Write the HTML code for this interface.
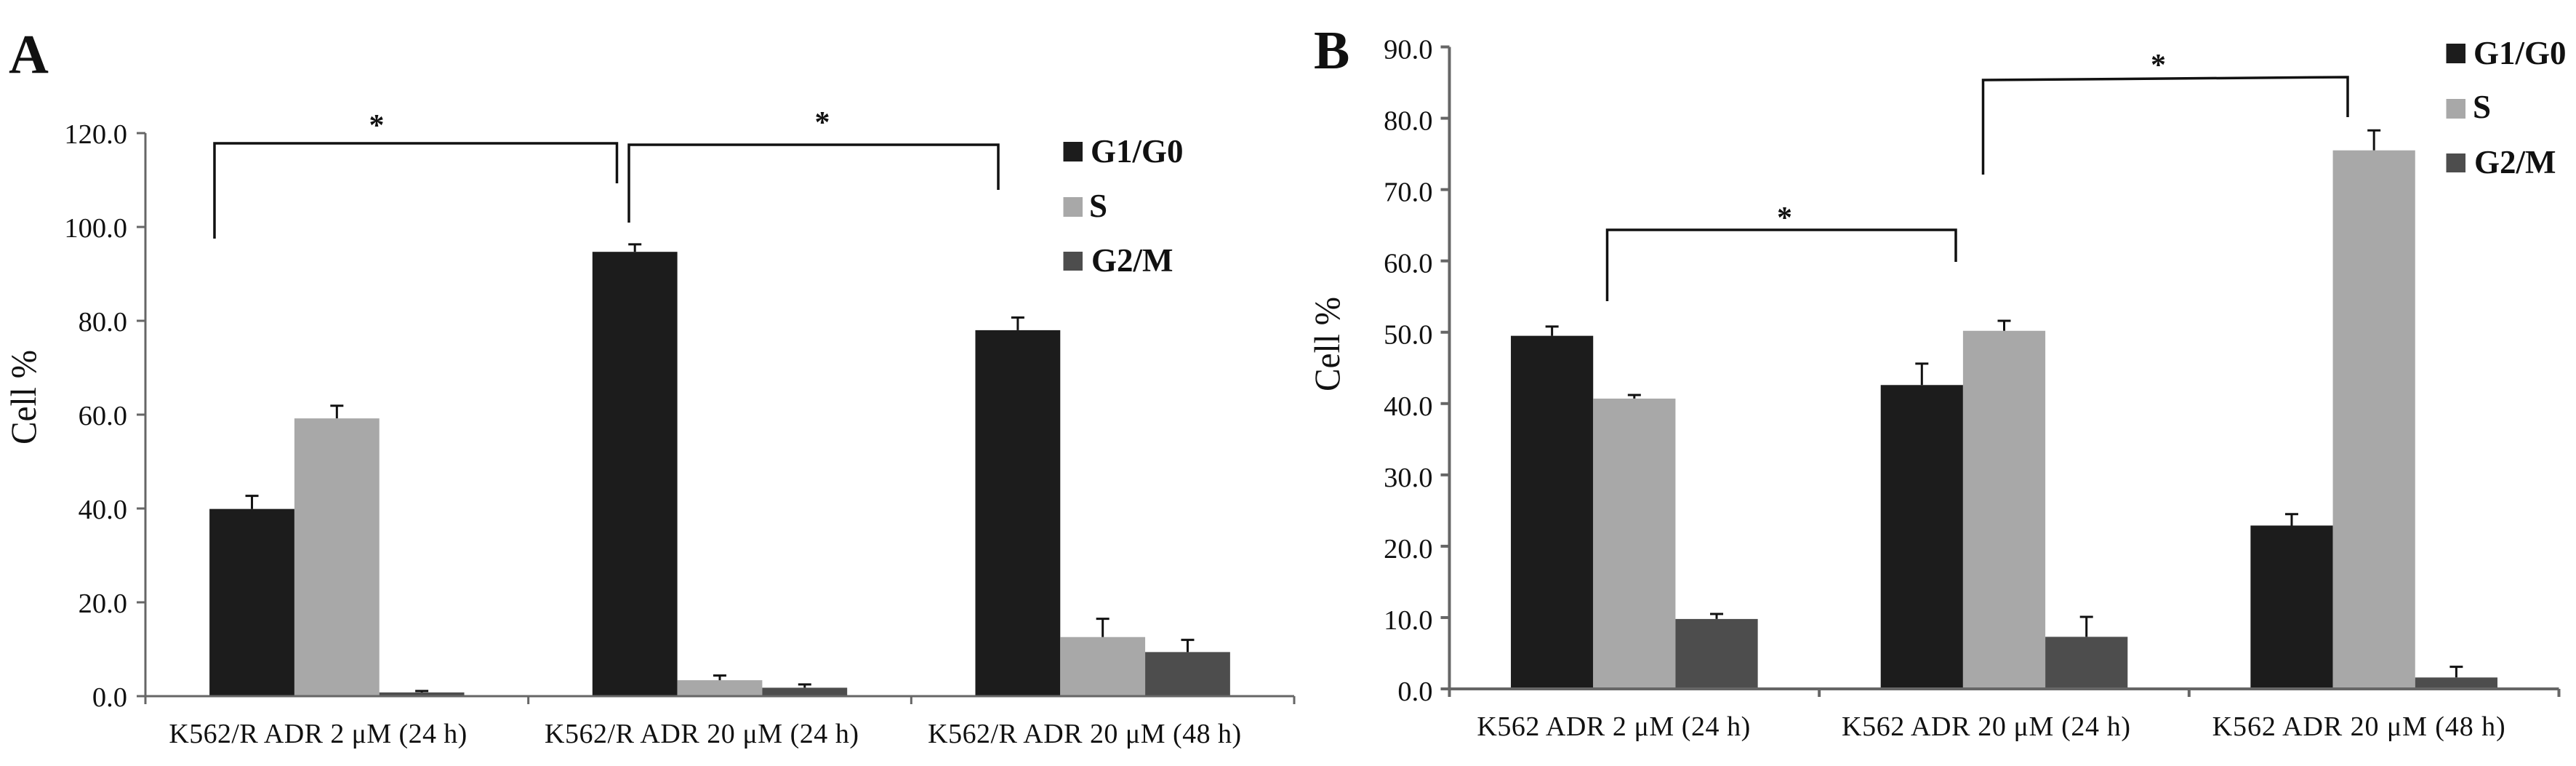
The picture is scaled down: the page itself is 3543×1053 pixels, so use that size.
<!DOCTYPE html>
<html lang="en">
<head>
<meta charset="utf-8">
<title>Cell cycle distribution charts</title>
<style>
html,body{margin:0;padding:0;background:#fff;width:3543px;height:1053px;overflow:hidden}
svg{display:block}
text{font-family:"Liberation Serif","DejaVu Serif",serif;fill:#111}
.bold{font-weight:bold}
</style>
</head>
<body>
<svg id="figure" xmlns="http://www.w3.org/2000/svg" width="3543" height="1053" viewBox="0 0 3543 1053">
  <rect x="0" y="0" width="3543" height="1053" fill="#ffffff"/>

  <text class="bold" x="12" y="100" font-size="76">A</text>
  <text class="bold" x="1807" y="94" font-size="74">B</text>

  <text font-size="50" text-anchor="middle" textLength="130" lengthAdjust="spacingAndGlyphs" transform="translate(49,546) rotate(-90)">Cell %</text>
  <text font-size="50" text-anchor="middle" textLength="130" lengthAdjust="spacingAndGlyphs" transform="translate(1842,473) rotate(-90)">Cell %</text>

  <g id="panelA"></g>
  <g id="panelB"></g>

  <g fill="none" stroke="#111" stroke-width="3.5">
    <path d="M295 328V197H848.5V252"/>
    <path d="M865 306V199H1373V261"/>
  </g>
  <text class="bold" x="518" y="186" font-size="42" text-anchor="middle">*</text>
  <text class="bold" x="1131" y="182" font-size="42" text-anchor="middle">*</text>

  <g fill="none" stroke="#111" stroke-width="3.5">
    <path d="M2210.5 414V316H2690V360"/>
    <path d="M2727.5 240V110L3229 106V161"/>
  </g>
  <text class="bold" x="2454.5" y="313" font-size="42" text-anchor="middle">*</text>
  <text class="bold" x="2968.5" y="103" font-size="42" text-anchor="middle">*</text>

  <g>
    <rect x="1462.5" y="195" width="26.5" height="27" fill="#1c1c1c"/>
    <text class="bold" x="1500" y="223" font-size="45">G1/G0</text>
    <rect x="1462.5" y="271" width="26.5" height="27" fill="#a8a8a8"/>
    <text class="bold" x="1498" y="298" font-size="45">S</text>
    <rect x="1462.5" y="346" width="26.5" height="26" fill="#4d4d4d"/>
    <text class="bold" x="1501" y="373" font-size="45">G2/M</text>
  </g>
  <g>
    <rect x="3364.5" y="60" width="26.5" height="27" fill="#1c1c1c"/>
    <text class="bold" x="3402" y="88" font-size="45">G1/G0</text>
    <rect x="3364.5" y="136" width="26.5" height="27" fill="#a8a8a8"/>
    <text class="bold" x="3401" y="162" font-size="45">S</text>
    <rect x="3364.5" y="211" width="26.5" height="26" fill="#4d4d4d"/>
    <text class="bold" x="3403" y="238" font-size="45">G2/M</text>
  </g>
</svg>

<script>
// Panel A data
const categoriesA = ["K562/R ADR 2 μM (24 h)", "K562/R ADR 20 μM (24 h)", "K562/R ADR 20 μM (48 h)"];
const g1ValuesA = [39.9, 94.7, 78.0];
const sValuesA = [59.2, 3.4, 12.6];
const g2ValuesA = [0.8, 1.8, 9.4];
const g1ErrorTopsA = [42.7, 96.3, 80.7];
const sErrorTopsA = [61.9, 4.4, 16.5];
const g2ErrorTopsA = [1.1, 2.5, 12.0];
const tickValuesA = [0, 20, 40, 60, 80, 100, 120];

// Panel B data
const categoriesB = ["K562 ADR 2 μM (24 h)", "K562 ADR 20 μM (24 h)", "K562 ADR 20 μM (48 h)"];
const g1ValuesB = [49.5, 42.6, 22.9];
const sValuesB = [40.7, 50.2, 75.5];
const g2ValuesB = [9.8, 7.3, 1.6];
const g1ErrorTopsB = [50.8, 45.6, 24.5];
const sErrorTopsB = [41.2, 51.6, 78.3];
const g2ErrorTopsB = [10.5, 10.1, 3.1];
const tickValuesB = [0, 10, 20, 30, 40, 50, 60, 70, 80, 90];

const seriesNames = ["g1-g0", "s", "g2-m"];
const seriesColors = ["#1c1c1c", "#a8a8a8", "#4d4d4d"];

const SVG_NS = "http://www.w3.org/2000/svg";

function makeShape(tag, parent, props) {
  const el = document.createElementNS(SVG_NS, tag);
  for (const k in props) el.setAttribute(k, props[k]);
  parent.appendChild(el);
  return el;
}

function drawPanel(opts) {
  const root = document.getElementById(opts.id);
  const L = opts.layout;
  const nGroups = opts.categories.length;
  const bandWidth = (L.right - L.left) / nGroups;
  const maxTick = Math.max.apply(null, opts.ticks);

  function yScale(v) { return L.bottom - (v / maxTick) * (L.bottom - L.top); }
  function groupCenter(g) { return L.left + bandWidth * (g + 0.5); }
  function barLeft(g, s) { return groupCenter(g) - 1.5 * L.barWidth + s * L.barWidth; }

  // bars and error bars
  opts.series.forEach(function (values, s) {
    values.forEach(function (v, g) {
      const x = barLeft(g, s);
      const bar = makeShape("rect", root, {
        x: x, y: yScale(v), width: L.barWidth, height: L.bottom - yScale(v), fill: seriesColors[s]
      });
      
      

      const top = opts.errors[s][g];
      const cx = x + L.barWidth / 2;
      const err = makeShape("path", root, {
        d: "M" + cx + " " + yScale(v) + "V" + yScale(top) + "M" + (cx - 9) + " " + yScale(top) + "H" + (cx + 9),
        fill: "none", stroke: "#111", "stroke-width": 3
      });
      
      
    });
  });

  // y axis
  const yAxis = makeShape("line", root, {
    x1: L.left, x2: L.left, y1: L.top, y2: L.bottom, stroke: "#666", "stroke-width": L.axisWidth
  });
  
  

  opts.ticks.forEach(function (t) {
    const tick = makeShape("line", root, {
      x1: L.left - 12, x2: L.left, y1: yScale(t), y2: yScale(t), stroke: "#666", "stroke-width": L.axisWidth
    });
    
    

    const label = makeShape("text", root, {
      x: L.left - L.tickGap, y: yScale(t) + L.tickDrop, "text-anchor": "end", "font-size": 38.5
    });
    label.textContent = t.toFixed(1);
    
    
  });

  // x axis
  const xAxis = makeShape("line", root, {
    x1: L.left, x2: L.right, y1: L.bottom, y2: L.bottom, stroke: "#666", "stroke-width": L.axisWidth
  });
  
  

  for (let i = 0; i <= nGroups; i++) {
    const tx = L.left + bandWidth * i;
    const xTick = makeShape("line", root, {
      x1: tx, x2: tx, y1: L.bottom, y2: L.bottom + 11, stroke: "#666", "stroke-width": L.axisWidth
    });
    
    
  }

  opts.categories.forEach(function (c, g) {
    const cat = makeShape("text", root, {
      x: groupCenter(g) + L.labelShift[g], y: L.labelBaseline, "text-anchor": "middle",
      "font-size": L.labelSize, textLength: L.labelWidth[g], lengthAdjust: "spacing"
    });
    cat.textContent = c;
    
    
  });
}

const layoutA = {
  left: 200, right: 1780, top: 183, bottom: 957, barWidth: 116.8, axisWidth: 3, tickGap: 25, tickDrop: 14,
  labelBaseline: 1021, labelSize: 38,
  labelShift: [-26, -25, -25], labelWidth: [410, 432, 431]
};
const layoutB = {
  left: 1993.5, right: 3519.5, top: 64.5, bottom: 947, barWidth: 113.2, axisWidth: 4, tickGap: 23, tickDrop: 16,
  labelBaseline: 1011, labelSize: 38,
  labelShift: [-28.5, -25, -21], labelWidth: [376, 397, 403]
};

drawPanel({
  id: "panelA", layout: layoutA, categories: categoriesA, ticks: tickValuesA,
  series: [g1ValuesA, sValuesA, g2ValuesA],
  errors: [g1ErrorTopsA, sErrorTopsA, g2ErrorTopsA]
});
drawPanel({
  id: "panelB", layout: layoutB, categories: categoriesB, ticks: tickValuesB,
  series: [g1ValuesB, sValuesB, g2ValuesB],
  errors: [g1ErrorTopsB, sErrorTopsB, g2ErrorTopsB]
});
</script>
</body>
</html>
